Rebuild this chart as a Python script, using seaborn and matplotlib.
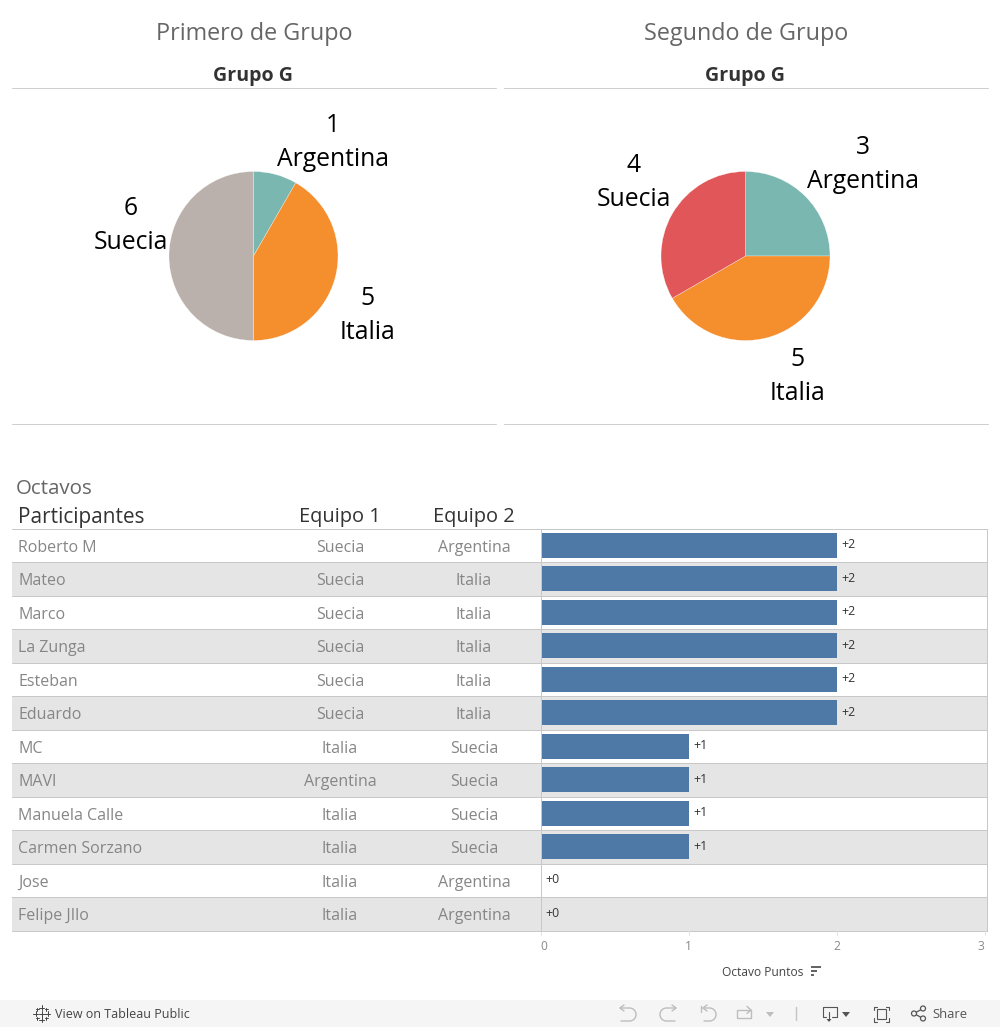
import numpy as np
import pandas as pd
import matplotlib
matplotlib.use("Agg")
import matplotlib.pyplot as plt
from matplotlib.patches import Rectangle, Circle, Polygon
import seaborn as sns

teams_pie = ["Argentina", "Italia", "Suecia"]
first_values = [1, 5, 6]
second_values = [3, 5, 4]
first_colors = ["#79b7b0", "#f58e2c", "#bab0ac"]
second_colors = ["#79b7b0", "#f58e2c", "#e15759"]

participants = ["Roberto M", "Mateo", "Marco", "La Zunga", "Esteban", "Eduardo", "MC", "MAVI",
                "Manuela Calle", "Carmen Sorzano", "Jose", "Felipe JIlo"]
team1 = ["Suecia"] * 6 + ["Italia", "Argentina", "Italia", "Italia", "Italia", "Italia"]
team2 = ["Argentina", "Italia", "Italia", "Italia", "Italia", "Italia", "Suecia", "Suecia", "Suecia",
         "Suecia", "Argentina", "Argentina"]
points = [2, 2, 2, 2, 2, 2, 1, 1, 1, 1, 0, 0]
x_ticks = [0, 1, 2, 3]

sns.set_theme(style="white")
plt.rcParams["font.family"] = ["Open Sans", "DejaVu Sans"]

W, H = 1000, 1027
fig = plt.figure(figsize=(W / 100, H / 100), dpi=100, facecolor="white")

def axes_px(x0, y0, x1, y1, **kw):
    return fig.add_axes([x0 / W, 1 - y1 / H, (x1 - x0) / W, (y1 - y0) / H], **kw)

ov = axes_px(0, 0, W, H)
ov.set_xlim(0, W)
ov.set_ylim(H, 0)
ov.axis("off")

def px(pt):
    return pt * 0.72

LW = 0.72

# headers
for cx, title in [(254, "Primero de Grupo"), (746, "Segundo de Grupo")]:
    ov.text(cx, 33.5, title, ha="center", va="center", fontsize=px(23.4), color="#666666")
    ov.text(cx - 1, 75.5, "Grupo G", ha="center", va="center", fontsize=px(19.6), color="#333333", fontweight="bold")
for x0, x1 in [(12, 495.5), (504, 987.5)]:
    ov.plot([x0, x1], [88, 88], color="#cfcfcf", lw=LW)
    ov.plot([x0, x1], [424, 424], color="#cfcfcf", lw=LW)

# pies
def pie(cx, vals, cols):
    r = 84.5
    a = axes_px(cx - r, 256 - r, cx + r, 256 + r)
    a.pie(vals, colors=cols, startangle=90, counterclock=False, radius=1,
          wedgeprops=dict(edgecolor="#ffffff", linewidth=0.2))
    a.set_xlim(-1, 1)
    a.set_ylim(-1, 1)
    a.axis("off")

pie(253.5, first_values, first_colors)
pie(745.5, second_values, second_colors)

def pie_label(x, y, v, name):
    ov.text(x, y + 1.5, str(v), ha="center", va="center", fontsize=px(24.8), color="black")
    ov.text(x, y + 35.5, name, ha="center", va="center", fontsize=px(24.8), color="black")

pie_label(333, 124, first_values[0], teams_pie[0])
pie_label(367, 297, first_values[1], teams_pie[1])
pie_label(130.5, 207, first_values[2], teams_pie[2])
pie_label(863, 146.5, second_values[0], teams_pie[0])
pie_label(798, 358, second_values[1], teams_pie[1])
pie_label(634, 164.5, second_values[2], teams_pie[2])

# table
top, rh = 528.5, 33.5
n = len(participants)
ov.text(16, 488.5, "Octavos", ha="left", va="center", fontsize=px(20.5), color="#666666")
ov.text(18, 517, "Participantes", ha="left", va="center", fontsize=px(20.8), color="#333333")
ov.text(340, 517, "Equipo 1", ha="center", va="center", fontsize=px(20), color="#333333")
ov.text(474, 517, "Equipo 2", ha="center", va="center", fontsize=px(20), color="#333333")
for i in range(n):
    y0 = top + i * rh
    if i % 2 == 1:
        ov.add_patch(Rectangle((12, y0), 975, rh, fc="#e5e5e5", ec="none", zorder=0))
    ov.plot([12, 987], [y0 + rh, y0 + rh], color="#c8c8c8", lw=LW, zorder=1)
    yc = y0 + rh / 2 + 2.5
    ov.text(18, yc, participants[i], ha="left", va="center", fontsize=px(16), color="#868686")
    ov.text(340, yc, team1[i], ha="center", va="center", fontsize=px(16), color="#868686")
    ov.text(474, yc, team2[i], ha="center", va="center", fontsize=px(16), color="#868686")
ov.plot([12, 987], [top, top], color="#c8c8c8", lw=LW, zorder=1)
ov.plot([987, 987], [top, top + n * rh], color="#c8c8c8", lw=LW, zorder=1)

# bars
ax = axes_px(540.8, top, 987, top + n * rh)
ax.patch.set_alpha(0)
df = pd.DataFrame({"Participante": participants, "Octavo Puntos": points})
sns.barplot(data=df, y="Participante", x="Octavo Puntos", color="#4e79a7", saturation=1, width=0.75,
            orient="h", ax=ax, linewidth=0)
ax.set_xlim(0, 446.2 / 148)
ax.set_ylim(n - 0.5, -0.5)
ax.set_xlabel("")
ax.set_ylabel("")
ax.set_yticks([])
ax.set_xticks([])
for s in ["top", "right", "bottom"]:
    ax.spines[s].set_visible(False)
ax.spines["left"].set_color("#c8c8c8")
ax.spines["left"].set_linewidth(LW)
for i, v in enumerate(points):
    ax.annotate(f"+{v}", (v, i), xytext=(3, 0.5), textcoords="offset points", ha="left", va="center",
                fontsize=px(12.3), color="#333333")
trans = ax.get_xaxis_transform()
for t in x_ticks:
    ax.plot([t, t], [0, -0.012], transform=trans, color="#e2e2e2", lw=LW, clip_on=False)
    off = {0: 3.5, 3: -4}.get(t, 0)
    ax.annotate(str(t), (t, 0), xycoords=trans, xytext=(off * 0.72, -16 * 0.72), textcoords="offset points",
                ha="center", va="center", fontsize=px(12), color="#8a8a8a")
ov.text(722, 972.5, "Octavo Puntos", ha="left", va="center", fontsize=px(12), color="#444444")
for y, x1 in [(966.5, 821), (970.5, 817), (975, 814)]:
    ov.plot([811, x1], [y, y], color="#555555", lw=1.3, solid_capstyle="butt")

# toolbar
ov.add_patch(Rectangle((0, 1000), W, 27, fc="#f5f5f5", ec="none"))
ov.text(55, 1014, "View on Tableau Public", ha="left", va="center", fontsize=px(12.5), color="#444444")
ov.text(932, 1014, "Share", ha="left", va="center", fontsize=px(13), color="#555555")
c = (41.5, 1013.5)
for dx, dy, s in [(0, 0, 3), (0, -6, 2.5), (0, 6, 2.5), (-6, 0, 2.5), (6, 0, 2.5), (-4.5, -4.5, 1.5), (4.5, -4.5, 1.5), (-4.5, 4.5, 1.5), (4.5, 4.5, 1.5)]:
    ov.plot([c[0] + dx - s, c[0] + dx + s], [c[1] + dy] * 2, color="#444444", lw=0.7)
    ov.plot([c[0] + dx] * 2, [c[1] + dy - s, c[1] + dy + s], color="#444444", lw=0.7)

grey = "#bdbdbd"
def curve(x_start, x_turn, sgn):
    t = np.linspace(-np.pi / 2, np.pi / 2, 30)
    xs = np.r_[x_start, x_turn + sgn * 6.5 * np.cos(t), x_start + sgn * 1]
    ys = np.r_[1008, 1014.5 + 6.5 * np.sin(t), 1021]
    ov.plot(xs, ys, color=grey, lw=1)
    ov.plot([x_start + sgn * 4, x_start, x_start + sgn * 4], [1005, 1008, 1011], color=grey, lw=1)
curve(620, 629.5, 1)
curve(676, 666.5, -1)
curve(703, 709.5, 1)
ov.plot([700.5, 700.5], [1006, 1012], color=grey, lw=1)
ov.add_patch(Rectangle((736.5, 1010), 14.5, 8, fc="none", ec=grey, lw=1))
ov.plot([747, 751, 747], [1006.5, 1010, 1013.5], color=grey, lw=1)
ov.add_patch(Polygon([(766, 1012), (774, 1012), (770, 1017)], fc=grey, ec="none"))
ov.plot([795.5, 795.5], [1007, 1020], color="#c4c4c4", lw=1)
ink = "#555555"
ov.plot([826, 822.5, 822.5, 836.5, 836.5, 832], [1016.5, 1016.5, 1007, 1007, 1016.5, 1016.5], color=ink, lw=0.8)
ov.plot([829, 829], [1012, 1020], color=ink, lw=0.8)
ov.add_patch(Polygon([(826.5, 1019), (831.5, 1019), (829, 1022)], fc=ink, ec="none"))
ov.add_patch(Polygon([(842, 1012), (850, 1012), (846, 1017)], fc=ink, ec="none"))
ov.add_patch(Rectangle((876.5, 1008.5), 9, 10, fc="none", ec=ink, lw=0.8))
for xa, d in [(873.5, 1), (888.5, -1)]:
    ov.plot([xa + d * 3, xa, xa], [1006.5, 1006.5, 1010], color=ink, lw=0.8)
    ov.plot([xa + d * 3, xa, xa], [1021.5, 1021.5, 1018], color=ink, lw=0.8)
ov.plot([923, 914, 923], [1008.5, 1013.5, 1018.5], color=ink, lw=0.9)
for xy in [(923, 1008.5), (914, 1013.5), (923, 1018.5)]:
    ov.add_patch(Circle(xy, 2.5, fc="#f5f5f5", ec=ink, lw=0.9, zorder=5))

fig.savefig("out.png", dpi=100, facecolor="white")
